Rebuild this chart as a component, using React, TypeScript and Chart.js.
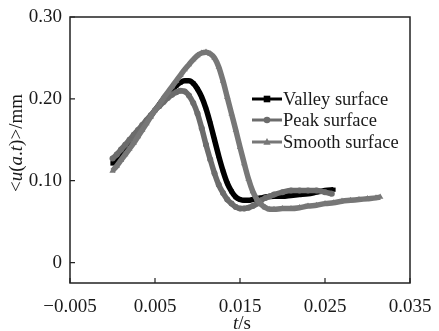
import React, { useEffect, useRef } from "react";
import { Chart, registerables } from "chart.js";

Chart.register(...registerables);

const tValley = [0, 0.0005, 0.001, 0.0015, 0.002, 0.0025, 0.003, 0.0035, 0.004, 0.0045, 0.005, 0.0055, 0.006, 0.0065, 0.007, 0.0075, 0.008, 0.0085, 0.009, 0.0095, 0.01, 0.0105, 0.011, 0.0115, 0.012, 0.0125, 0.013, 0.0135, 0.014, 0.0145, 0.015, 0.0155, 0.016, 0.0165, 0.017, 0.0175, 0.018, 0.019, 0.02, 0.021, 0.022, 0.023, 0.024, 0.025, 0.026];
const uValley = [0.121, 0.127, 0.133, 0.139, 0.146, 0.152, 0.158, 0.165, 0.172, 0.179, 0.186, 0.193, 0.2, 0.206, 0.211, 0.216, 0.22, 0.222, 0.222, 0.219, 0.212, 0.202, 0.188, 0.17, 0.15, 0.13, 0.112, 0.097, 0.087, 0.08, 0.077, 0.076, 0.076, 0.077, 0.078, 0.079, 0.08, 0.081, 0.081, 0.082, 0.083, 0.084, 0.086, 0.088, 0.089];

const tPeak = [0, 0.0005, 0.001, 0.0015, 0.002, 0.0025, 0.003, 0.0035, 0.004, 0.0045, 0.005, 0.0055, 0.006, 0.0065, 0.007, 0.0075, 0.008, 0.0085, 0.009, 0.0095, 0.01, 0.0105, 0.011, 0.0115, 0.012, 0.0125, 0.013, 0.0135, 0.014, 0.0145, 0.015, 0.0155, 0.016, 0.0165, 0.017, 0.0175, 0.018, 0.0185, 0.019, 0.02, 0.021, 0.022, 0.023, 0.024, 0.025, 0.0258];
const uPeak = [0.127, 0.132, 0.138, 0.144, 0.15, 0.156, 0.162, 0.168, 0.174, 0.18, 0.186, 0.191, 0.196, 0.201, 0.205, 0.208, 0.21, 0.209, 0.204, 0.195, 0.182, 0.164, 0.144, 0.126, 0.109, 0.095, 0.085, 0.077, 0.072, 0.068, 0.066, 0.066, 0.067, 0.069, 0.072, 0.076, 0.079, 0.081, 0.083, 0.086, 0.088, 0.088, 0.088, 0.088, 0.086, 0.084];

const tSmooth = [0, 0.0005, 0.001, 0.0015, 0.002, 0.0025, 0.003, 0.0035, 0.004, 0.0045, 0.005, 0.0055, 0.006, 0.0065, 0.007, 0.0075, 0.008, 0.0085, 0.009, 0.0095, 0.01, 0.0105, 0.011, 0.0115, 0.012, 0.0125, 0.013, 0.0135, 0.014, 0.0145, 0.015, 0.0155, 0.016, 0.0165, 0.017, 0.0175, 0.018, 0.0185, 0.019, 0.02, 0.021, 0.022, 0.023, 0.024, 0.025, 0.026, 0.027, 0.028, 0.029, 0.03, 0.031, 0.0315];
const uSmooth = [0.112, 0.118, 0.125, 0.132, 0.139, 0.146, 0.154, 0.162, 0.17, 0.178, 0.186, 0.193, 0.201, 0.208, 0.215, 0.222, 0.229, 0.236, 0.242, 0.248, 0.253, 0.256, 0.257, 0.255, 0.25, 0.239, 0.222, 0.202, 0.182, 0.162, 0.141, 0.121, 0.102, 0.087, 0.077, 0.071, 0.067, 0.065, 0.065, 0.066, 0.066, 0.067, 0.069, 0.07, 0.072, 0.073, 0.075, 0.076, 0.077, 0.078, 0.079, 0.08];

const xTicks = [-0.005, 0.005, 0.015, 0.025, 0.035];
const yTicks = [0, 0.1, 0.2, 0.3];
const xTickLabels = ["\u22120.005", "0.005", "0.015", "0.025", "0.035"];
const yTickLabels = ["0", "0.10", "0.20", "0.30"];
const seriesNames = ["Valley surface", "Peak surface", "Smooth surface"];

const FONT = "'Liberation Serif', 'DejaVu Serif', serif";
const TXT = "#1a1a1a";

const colors = ["#000000", "#6c6c6c", "#777777"];
const markers = ["rect", "circle", "triangle"];

function toXY(t: number[], u: number[]) {
  return t.map((x, i) => ({ x, y: u[i] }));
}

function drawMarker(ctx: CanvasRenderingContext2D, style: string, x: number, y: number, r: number) {
  ctx.beginPath();
  if (style === "rect") {
    ctx.rect(x - r, y - r, 2 * r, 2 * r);
  } else if (style === "circle") {
    ctx.arc(x, y, r, 0, Math.PI * 2);
  } else {
    ctx.moveTo(x, y - r * 1.2);
    ctx.lineTo(x + r * 1.1, y + r * 0.8);
    ctx.lineTo(x - r * 1.1, y + r * 0.8);
    ctx.closePath();
  }
  ctx.fill();
}

const decorPlugin = {
  id: "decor",
  afterDraw(chart: any) {
    const ctx: CanvasRenderingContext2D = chart.ctx;
    const a = chart.chartArea;
    const xs = chart.scales.x;
    const ys = chart.scales.y;
    ctx.save();
    ctx.strokeStyle = "#222";
    ctx.lineWidth = 1.5;
    ctx.strokeRect(a.left, a.top, a.right - a.left, a.bottom - a.top);
    ctx.lineWidth = 1.2;
    ctx.beginPath();
    xTicks.forEach((v) => {
      const px = xs.getPixelForValue(v);
      ctx.moveTo(px, a.bottom);
      ctx.lineTo(px, a.bottom - 5);
    });
    yTicks.forEach((v) => {
      const py = ys.getPixelForValue(v);
      ctx.moveTo(a.left, py);
      ctx.lineTo(a.left + 5, py);
    });
    ctx.stroke();

    // x title: t/s
    ctx.fillStyle = TXT;
    ctx.textBaseline = "middle";
    const cx = (a.left + a.right) / 2 + 2;
    const ty = 324;
    ctx.font = `italic 19px ${FONT}`;
    const w1 = ctx.measureText("t").width;
    ctx.font = `19px ${FONT}`;
    const w2 = ctx.measureText("/s").width;
    const sx = cx - (w1 + w2) / 2;
    ctx.textAlign = "left";
    ctx.font = `italic 19px ${FONT}`;
    ctx.fillText("t", sx, ty);
    ctx.font = `19px ${FONT}`;
    ctx.fillText("/s", sx + w1, ty);

    // y title
    const parts: [string, boolean][] = [["<", false], ["u", true], ["(", false], ["a", true], [".", false], ["t", true], [")>/mm", false]];
    let total = 0;
    const widths = parts.map(([s, it]) => {
      ctx.font = `${it ? "italic " : ""}19px ${FONT}`;
      const w = ctx.measureText(s).width;
      total += w;
      return w;
    });
    ctx.save();
    ctx.translate(17, 143);
    ctx.rotate(-Math.PI / 2);
    let px = -total / 2;
    parts.forEach(([s, it], i) => {
      ctx.font = `${it ? "italic " : ""}19px ${FONT}`;
      ctx.fillText(s, px, 0);
      px += widths[i];
    });
    ctx.restore();

    // legend
    const lx0 = 252;
    const lx1 = 282;
    const rowsY = [99, 120, 142];
    seriesNames.forEach((name, i) => {
      const y = rowsY[i];
      ctx.strokeStyle = colors[i];
      ctx.fillStyle = colors[i];
      ctx.lineWidth = 3;
      ctx.beginPath();
      ctx.moveTo(lx0, y);
      ctx.lineTo(lx1, y);
      ctx.stroke();
      drawMarker(ctx, markers[i], (lx0 + lx1) / 2, y, 3.3);
      ctx.fillStyle = TXT;
      ctx.font = `18.5px ${FONT}`;
      ctx.textAlign = "left";
      ctx.textBaseline = "middle";
      ctx.fillText(name, lx1 + 1, y + 1);
    });
    ctx.restore();
  },
};

export default function App() {
  const ref = useRef<HTMLCanvasElement | null>(null);
  useEffect(() => {
    document.body.style.margin = "0";
    const canvas = ref.current;
    if (!canvas) return;
    const mk = (i: number, t: number[], u: number[], order: number) => ({
      label: seriesNames[i],
      data: toXY(t, u),
      borderColor: colors[i],
      backgroundColor: colors[i],
      borderWidth: 5.5,
      pointRadius: i === 2 ? 3.6 : 3,
      pointStyle: markers[i],
      pointBorderWidth: 0,
      pointBackgroundColor: colors[i],
      cubicInterpolationMode: "monotone" as const,
      order,
    });
    const chart = new Chart(canvas, {
      type: "line",
      data: {
        datasets: [
          mk(0, tValley, uValley, 3),
          mk(1, tPeak, uPeak, 2),
          mk(2, tSmooth, uSmooth, 1),
        ],
      },
      options: {
        animation: false,
        responsive: false,
        layout: { padding: { left: 0, top: 17, right: 29, bottom: 0 } },
        plugins: { legend: { display: false }, tooltip: { enabled: false } },
        scales: {
          x: {
            type: "linear",
            min: -0.005,
            max: 0.035,
            afterBuildTicks: (s: any) => {
              s.ticks = xTicks.map((v) => ({ value: v }));
            },
            afterFit: (s: any) => {
              s.height = 48;
            },
            grid: { display: false },
            border: { display: false },
            ticks: {
              padding: 5,
              maxRotation: 0,
              autoSkip: false,
              color: TXT,
              font: { family: FONT, size: 19 },
              callback: (v: any) => {
                const i = xTicks.findIndex((t) => Math.abs(t - Number(v)) < 1e-9);
                return i >= 0 ? xTickLabels[i] : "";
              },
            },
          },
          y: {
            type: "linear",
            min: -0.025,
            max: 0.3,
            afterBuildTicks: (s: any) => {
              s.ticks = yTicks.map((v) => ({ value: v }));
            },
            afterFit: (s: any) => {
              s.width = 70;
            },
            grid: { display: false },
            border: { display: false },
            ticks: {
              padding: 0,
              autoSkip: false,
              color: TXT,
              font: { family: FONT, size: 19 },
              callback: (v: any) => {
                const i = yTicks.findIndex((t) => Math.abs(t - Number(v)) < 1e-9);
                return i >= 0 ? yTickLabels[i] : "";
              },
            },
          },
        },
      },
      plugins: [decorPlugin],
    });
    return () => chart.destroy();
  }, []);
  return (
    <div style={{ width: 439, height: 331, background: "#fff" }}>
      <canvas ref={ref} width={439} height={331} style={{ display: "block", width: 439, height: 331 }} />
    </div>
  );
}
